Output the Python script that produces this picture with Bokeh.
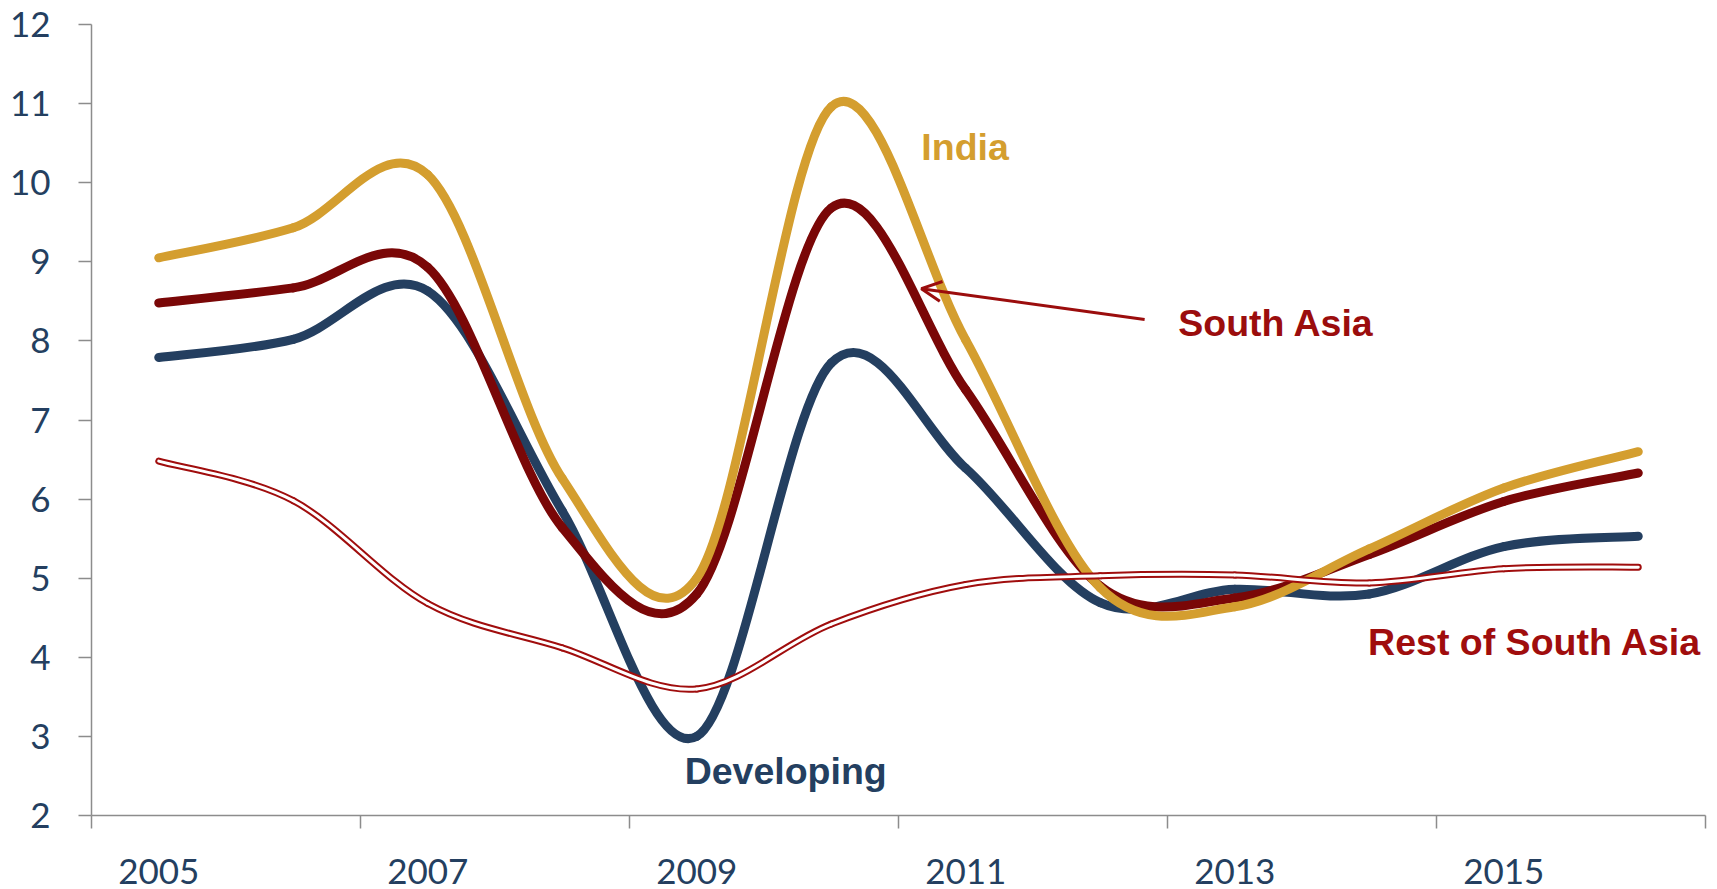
from bokeh.plotting import figure
from bokeh.models import Range1d, FixedTicker, ColumnDataSource, Arrow, OpenHead
from bokeh.core.properties import value
from bokeh.embed import file_html
from bokeh.resources import INLINE

# Annual series, 2005-2016
years = [2005, 2006, 2007, 2008, 2009, 2010, 2011, 2012, 2013, 2014, 2015, 2016]
india = [9.05, 9.43, 10.10, 6.26, 5.00, 10.96, 8.01, 4.88, 4.64, 5.37, 6.14, 6.60]
south_asia = [8.48, 8.67, 8.93, 5.64, 4.80, 9.68, 7.38, 4.90, 4.75, 5.30, 5.97, 6.33]
developing = [7.79, 8.02, 8.63, 5.85, 3.00, 7.72, 6.39, 4.69, 4.86, 4.80, 5.40, 5.53]
rest_of_south_asia = [6.48, 5.98, 4.68, 4.12, 3.60, 4.42, 4.92, 5.03, 5.04, 4.94, 5.12, 5.14]

label_years = [2005, 2007, 2009, 2011, 2013, 2015]
y_ticks = [2, 3, 4, 5, 6, 7, 8, 9, 10, 11, 12]

NAVY = "#243F60"
GOLD = "#D49E2F"
MAROON = "#7A0707"
RED = "#A00D0D"


def smooth(xs, ys):
    """Cubic Bezier segments through every point (Catmull-Rom style tangents)."""
    n = len(xs)
    seg = {k: [] for k in ("x0", "y0", "x1", "y1", "cx0", "cy0", "cx1", "cy1")}
    for i in range(n - 1):
        a = i - 1 if i > 0 else i
        d = i + 2 if i + 2 < n else i + 1
        seg["x0"].append(xs[i]); seg["y0"].append(ys[i])
        seg["x1"].append(xs[i + 1]); seg["y1"].append(ys[i + 1])
        seg["cx0"].append(xs[i] + (xs[i + 1] - xs[a]) / 6)
        seg["cy0"].append(ys[i] + (ys[i + 1] - ys[a]) / 6)
        seg["cx1"].append(xs[i + 1] - (xs[d] - xs[i]) / 6)
        seg["cy1"].append(ys[i + 1] - (ys[d] - ys[i]) / 6)
    return ColumnDataSource(seg)


p = figure(width=1717, height=889, output_backend="svg", toolbar_location=None,
           x_range=Range1d(2004.5, 2016.5), y_range=Range1d(2, 12),
           min_border_left=91, min_border_right=12, min_border_top=24, min_border_bottom=74)
p.outline_line_color = None
p.grid.visible = False
p.background_fill_color = "white"
p.border_fill_color = "white"

# x axis: year labels on alternate categories, tick marks between category pairs
p.xaxis.ticker = FixedTicker(ticks=label_years,
                             minor_ticks=[y - 0.5 for y in years[::2]] + [years[-1] + 0.5])
p.xaxis.major_tick_out = 0
p.xaxis.major_tick_in = 0
p.xaxis.minor_tick_out = 13
p.xaxis.minor_tick_in = 0
p.xaxis.minor_tick_line_color = "#8C8C8C"
p.xaxis.minor_tick_line_width = 1.5
p.xaxis.major_label_standoff = 30

p.yaxis.ticker = FixedTicker(ticks=y_ticks)
p.yaxis.major_tick_out = 13
p.yaxis.major_tick_in = 0
p.yaxis.minor_tick_line_color = None
p.yaxis.major_label_standoff = 28

for ax in (p.xaxis, p.yaxis):
    ax.axis_line_color = "#8C8C8C"
    ax.axis_line_width = 1.5
    ax.major_tick_line_color = "#8C8C8C"
    ax.major_tick_line_width = 1.5
    ax.major_label_text_font = "Lato"
    ax.major_label_text_font_size = "35px"
    ax.major_label_text_color = NAVY

bez = dict(x0="x0", y0="y0", x1="x1", y1="y1", cx0="cx0", cy0="cy0", cx1="cx1", cy1="cy1")

p.bezier(source=smooth(years, developing), line_color=NAVY, line_width=9, line_cap="round", **bez)
p.bezier(source=smooth(years, south_asia), line_color=MAROON, line_width=9, line_cap="round", **bez)
p.bezier(source=smooth(years, india), line_color=GOLD, line_width=9, line_cap="round", **bez)
rsa = smooth(years, rest_of_south_asia)
p.bezier(source=rsa, line_color=RED, line_width=7, line_cap="round", **bez)
p.bezier(source=rsa, line_color="white", line_width=3, line_cap="round", **bez)

lab = dict(text_font=value("Liberation Sans"), text_font_style="bold",
           text_font_size="37.5px", text_baseline="alphabetic")
p.text(x=[2010.67], y=[10.45], text=["India"], text_color=GOLD, text_align="left", **lab)
p.text(x=[2012.58], y=[8.23], text=["South Asia"], text_color="#9B0D0D", text_align="left", **lab)
p.text(x=[2016.47], y=[4.19], text=["Rest of South Asia"], text_color=RED, text_align="right", **lab)
p.text(x=[2008.91], y=[2.56], text=["Developing"], text_color=NAVY, text_align="left", **lab)

p.add_layout(Arrow(x_start=2012.33, y_start=8.27, x_end=2010.67, y_end=8.66,
                   line_color="#9B0D0D", line_width=3,
                   end=OpenHead(size=20, line_color="#9B0D0D", line_width=3)))

open("out.html", "w").write(file_html(p, INLINE))
